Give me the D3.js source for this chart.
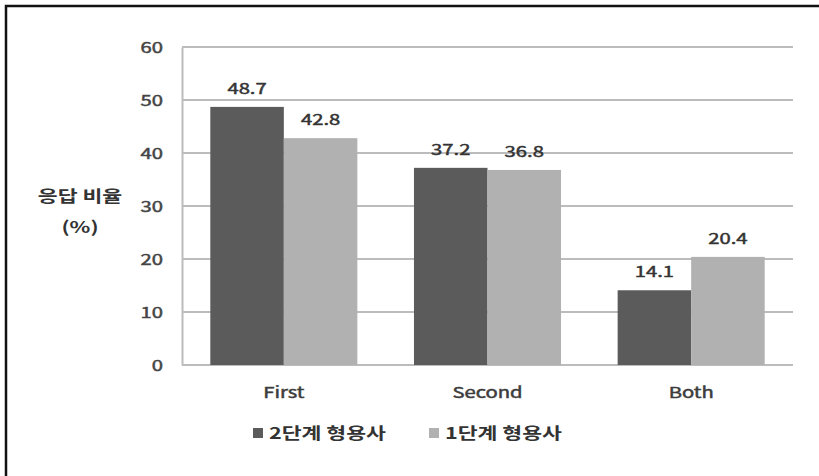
<!DOCTYPE html>
<html>
<head>
<meta charset="utf-8">
<script src="https://cdn.jsdelivr.net/npm/d3@7"></script>
<style>
  html, body { margin: 0; padding: 0; background: #fff; }
  svg { display: block; }
</style>
</head>
<body>
<svg id="chart" width="819" height="476"></svg>
<script>
// Response share by category for two adjective levels
const categories = ["First", "Second", "Both"];
const seriesNames = ["2단계 형용사", "1단계 형용사"];
const level2Values = [48.7, 37.2, 14.1];
const level1Values = [42.8, 36.8, 20.4];
const yTicks = [0, 10, 20, 30, 40, 50, 60];
const yLabelLines = ["응답 비율", "(%)"];

const colors = ["#5b5b5b", "#b1b1b1"];
const font = "'Noto Sans CJK KR', 'Noto Sans', sans-serif";
const sx = 1.35; // wide glyph stretch used for all text

const svg = d3.select("#chart");
const W = 819, H = 476;
const plot = { left: 182, right: 793, top: 47, bottom: 365 };

// places a text element at (x, y) with horizontally widened glyphs
function wide(sel, x, y) {
  return sel.attr("transform", `translate(${x},${y}) scale(${sx},1)`);
}
// medium-weight look: regular glyphs with a hairline outline
function medium(sel, color) {
  return sel.attr("font-weight", "normal").attr("fill", color)
    .attr("stroke", color).attr("stroke-width", 0.45);
}

// frame (left and top edges)
svg.append("path")
  .attr("d", `M6,${H} L6,6 L${W},6`)
  .attr("fill", "none").attr("stroke", "#111").attr("stroke-width", 2.5);

const x0 = d3.scaleBand().domain(categories)
  .range([plot.left, plot.right]).paddingInner(0.278).paddingOuter(0.139);
const x1 = d3.scaleBand().domain([0, 1]).range([0, x0.bandwidth()]);
const y = d3.scaleLinear().domain([0, 60]).range([plot.bottom, plot.top]);

// gridlines
svg.append("g").selectAll("line").data(yTicks).join("line")
  .attr("x1", plot.left).attr("x2", plot.right)
  .attr("y1", d => y(d)).attr("y2", d => y(d))
  .attr("stroke", "#bcbcbc").attr("stroke-width", 2);

// y axis
const yAxis = svg.append("g")
  .attr("transform", `translate(${plot.left},0)`)
  .call(d3.axisLeft(y).tickValues(yTicks).tickSize(0));
yAxis.select(".domain").attr("stroke", "#bcbcbc").attr("stroke-width", 2);
yAxis.selectAll("text")
  .attr("x", -19 / sx).attr("dy", "0.36em")
  .attr("transform", `scale(${sx},1)`)
  .attr("font-family", font).attr("font-size", 15)
  .call(medium, "#444");

// bars
const rows = categories.map((c, i) => ({ cat: c, vals: [level2Values[i], level1Values[i]] }));
const groups = svg.append("g").selectAll("g").data(rows).join("g")
  .attr("transform", d => `translate(${x0(d.cat)},0)`);

groups.selectAll("rect").data(d => d.vals.map((v, k) => ({ v, k }))).join("rect")
  .attr("x", d => x1(d.k)).attr("width", x1.bandwidth())
  .attr("y", d => y(d.v)).attr("height", d => y(0) - y(d.v))
  .attr("fill", d => colors[d.k]);

groups.selectAll("text.val").data(d => d.vals.map((v, k) => ({ v, k }))).join("text")
  .attr("class", "val")
  .each(function (d) { wide(d3.select(this), x1(d.k) + x1.bandwidth() / 2, y(d.v) - 13); })
  .attr("text-anchor", "middle")
  .attr("font-family", font).attr("font-size", 15)
  .call(medium, "#333")
  .text(d => d.v.toFixed(1));

// x axis labels
const xAxis = svg.append("g")
  .attr("transform", `translate(0,${plot.bottom})`)
  .call(d3.axisBottom(x0).tickSize(0));
xAxis.select(".domain").remove();
xAxis.selectAll("text")
  .attr("y", 33).attr("dy", 0)
  .attr("transform", `scale(${sx},1)`)
  .attr("font-family", font).attr("font-size", 15)
  .call(medium, "#3c3c3c");

// y axis title
svg.append("g").selectAll("text").data(yLabelLines).join("text")
  .each(function (d, i) { wide(d3.select(this), 80, 202 + i * 31); })
  .attr("text-anchor", "middle")
  .attr("font-family", font).attr("font-size", 16).attr("font-weight", "bold")
  .attr("fill", "#333")
  .text(d => d);

// legend
const legendX = [253, 429];
const legend = svg.append("g").selectAll("g").data(seriesNames).join("g")
  .attr("transform", (d, i) => `translate(${legendX[i]},433)`);
legend.append("rect").attr("x", 0).attr("y", -5).attr("width", 10).attr("height", 10)
  .attr("fill", (d, i) => colors[i]);
legend.append("text")
  .each(function () { wide(d3.select(this), 16, 6); })
  .attr("font-family", font).attr("font-size", 16).attr("font-weight", "bold")
  .attr("fill", "#333")
  .text(d => d);
</script>
</body>
</html>
